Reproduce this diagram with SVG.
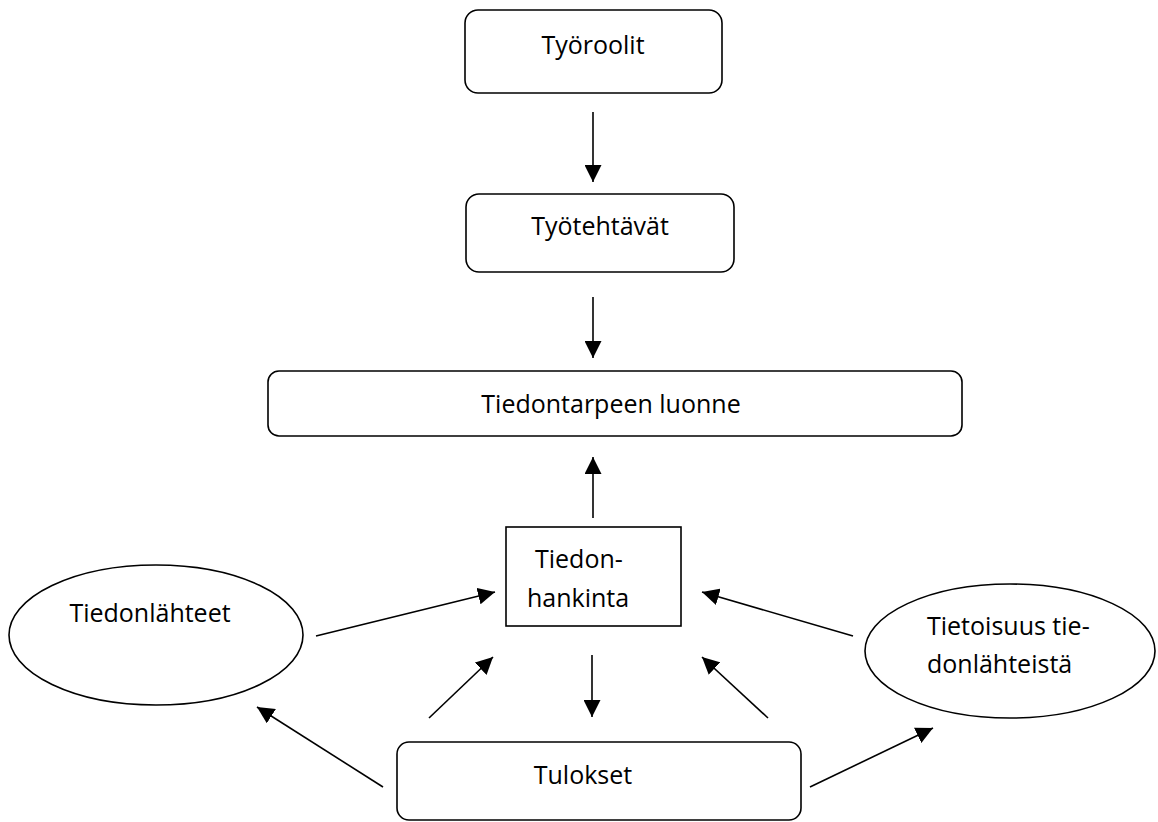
<svg xmlns="http://www.w3.org/2000/svg" width="1158" height="822" viewBox="0 0 1158 822">
<style>
.box{fill:#fff;stroke:#000;stroke-width:1.6}
.lbl{font-family:"Open Sans","Liberation Sans",sans-serif;font-size:25px;fill:#000}
.c{text-anchor:middle}
.conn line{stroke:#000;stroke-width:1.6;marker-end:url(#ah)}
</style>
<defs>
<marker id="ah" viewBox="0 0 16 16" refX="16" refY="8" markerWidth="17" markerHeight="17" markerUnits="userSpaceOnUse" orient="auto">
<path d="M0,0 L16,8 L0,16 z" fill="#000"/>
</marker>
</defs>
<rect width="1158" height="822" fill="#fff"/>
<g id="tyoroolit"><rect class="box" x="465" y="10" width="257" height="83" rx="13"/><text class="lbl c" x="593" y="54">Työroolit</text></g>
<g id="tyotehtavat"><rect class="box" x="466" y="194" width="268" height="78" rx="13"/><text class="lbl c" x="600" y="235">Työtehtävät</text></g>
<g id="tiedontarve"><rect class="box" x="268" y="371" width="694" height="65" rx="11"/><text class="lbl c" x="611" y="413">Tiedontarpeen luonne</text></g>
<g id="tiedonhankinta"><rect class="box" x="506" y="527" width="175" height="99"/><text class="lbl" x="535" y="568">Tiedon-</text><text class="lbl" x="527" y="607">hankinta</text></g>
<g id="tiedonlahteet"><ellipse class="box" cx="156" cy="635" rx="147" ry="70"/><text class="lbl c" x="150" y="622">Tiedonlähteet</text></g>
<g id="tietoisuus"><ellipse class="box" cx="1010" cy="651" rx="145" ry="67"/><text class="lbl" x="927" y="635">Tietoisuus tie-</text><text class="lbl" x="927" y="673">donlähteistä</text></g>
<g id="tulokset"><rect class="box" x="397" y="742" width="404" height="78" rx="12"/><text class="lbl c" x="583" y="784">Tulokset</text></g>
<g id="connectors" class="conn">
<line x1="593" y1="112" x2="593" y2="182"/>
<line x1="593" y1="297" x2="593" y2="358"/>
<line x1="593" y1="518" x2="593" y2="457"/>
<line x1="592" y1="655" x2="592" y2="717"/>
<line x1="316" y1="636" x2="495" y2="592"/>
<line x1="853" y1="636" x2="702" y2="592"/>
<line x1="429" y1="718" x2="493" y2="657"/>
<line x1="768" y1="718" x2="702" y2="657"/>
<line x1="383" y1="787" x2="257" y2="707"/>
<line x1="810" y1="787" x2="933" y2="728"/>
</g>
</svg>
